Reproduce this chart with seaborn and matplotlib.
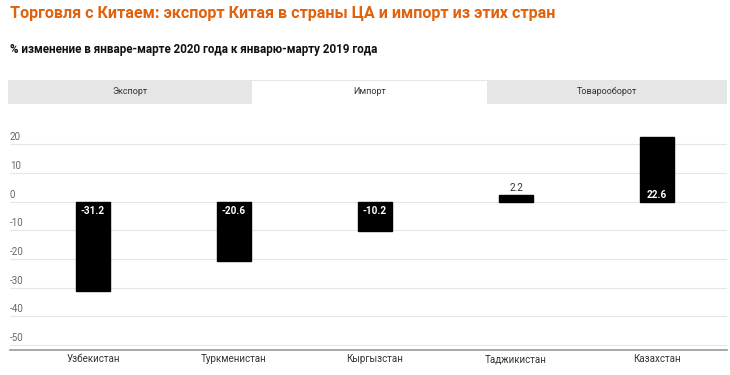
import matplotlib
matplotlib.use('Agg')
import matplotlib.pyplot as plt
import seaborn as sns
import pandas as pd
from matplotlib.patches import Rectangle

# chart data
countries = ['Узбекистан', 'Туркменистан', 'Кыргызстан', 'Таджикистан', 'Казахстан']
import_change = [-31.2, -20.6, -10.2, 2.2, 22.6]
y_ticks = [-50, -40, -30, -20, -10, 0, 10, 20]
tabs = ['Экспорт', 'Импорт', 'Товарооборот']
active_tab = 'Импорт'

title = 'Торговля с Китаем: экспорт Китая в страны ЦА и импорт из этих стран'
subtitle = '% изменение в январе-марте 2020 года к январю-марту 2019 года'

sns.set_theme(style='white')
plt.rcParams['font.family'] = ['Roboto', 'DejaVu Sans']

W, H = 730, 375
fig = plt.figure(figsize=(W / 100, H / 100), dpi=100)


def fx(px):
    return px / W


def fy(py):
    return 1 - py / H


# titles
fig.text(fx(10), fy(13), title, color='#e0620d', fontsize=11.6, fontweight='bold',
         va='center', ha='left')
fig.text(fx(10), fy(50), subtitle, color='#111111', fontsize=8.4, fontweight='bold',
         va='center', ha='left')

# tab strip
tab_edges = [8, 252, 487, 727]
fig.patches.append(Rectangle((fx(8), fy(104)), fx(727 - 8), (104 - 80) / H,
                             transform=fig.transFigure, facecolor='#e6e6e6', edgecolor='none'))
for i, name in enumerate(tabs):
    x0, x1 = tab_edges[i], tab_edges[i + 1]
    if name == active_tab:
        fig.patches.append(Rectangle((fx(x0), fy(105)), fx(x1 - x0), (105 - 81) / H,
                                     transform=fig.transFigure, facecolor='white',
                                     edgecolor='none'))
    fig.text(fx((x0 + x1) / 2), fy(92), name, fontsize=6.5, color='#333333',
             ha='center', va='center')

# plot area
ax = fig.add_axes([fx(10), 25 / H, fx(727 - 10), (350 - 130) / H])
df = pd.DataFrame({'country': countries, 'value': import_change})
sns.barplot(data=df, x='country', y='value', color='black', width=0.235,
            saturation=1, edgecolor='black', ax=ax)

ax.set_xlim(-0.589, 4.496)
ax.set_ylim(-51.7, 25)
ax.set_yticks(y_ticks)
ax.set_yticklabels([])
ax.tick_params(axis='y', length=0)
ax.yaxis.grid(True, color='#e6e6e6', linewidth=0.8)
ax.set_axisbelow(True)
for t in y_ticks:
    ax.annotate(str(t), xy=(0, t), xycoords=('axes fraction', 'data'),
                xytext=(0, 1.5), textcoords='offset points',
                fontsize=7, color='#666666', ha='left', va='bottom')

ax.set_xlabel('')
ax.set_ylabel('')
ax.tick_params(axis='x', length=0, pad=3, labelsize=7, labelcolor='#333333')
for side in ['top', 'left', 'right']:
    ax.spines[side].set_visible(False)
ax.spines['bottom'].set_color('#a0a0a0')
ax.spines['bottom'].set_linewidth(1.3)

# value labels
for i, v in enumerate(import_change):
    if abs(v) > 5:
        off = -3 if v < 0 else 1.5
        ax.annotate(f'{v:.1f}', xy=(i, 0), xytext=(0, off), textcoords='offset points',
                    ha='center', va='top' if v < 0 else 'bottom',
                    fontsize=7.2, fontweight='bold', color='white')
    else:
        ax.annotate(f'{v:.1f}', xy=(i, v), xytext=(0, 2), textcoords='offset points',
                    ha='center', va='bottom', fontsize=7.2, color='#333333')

fig.savefig('out.png', dpi=100)
